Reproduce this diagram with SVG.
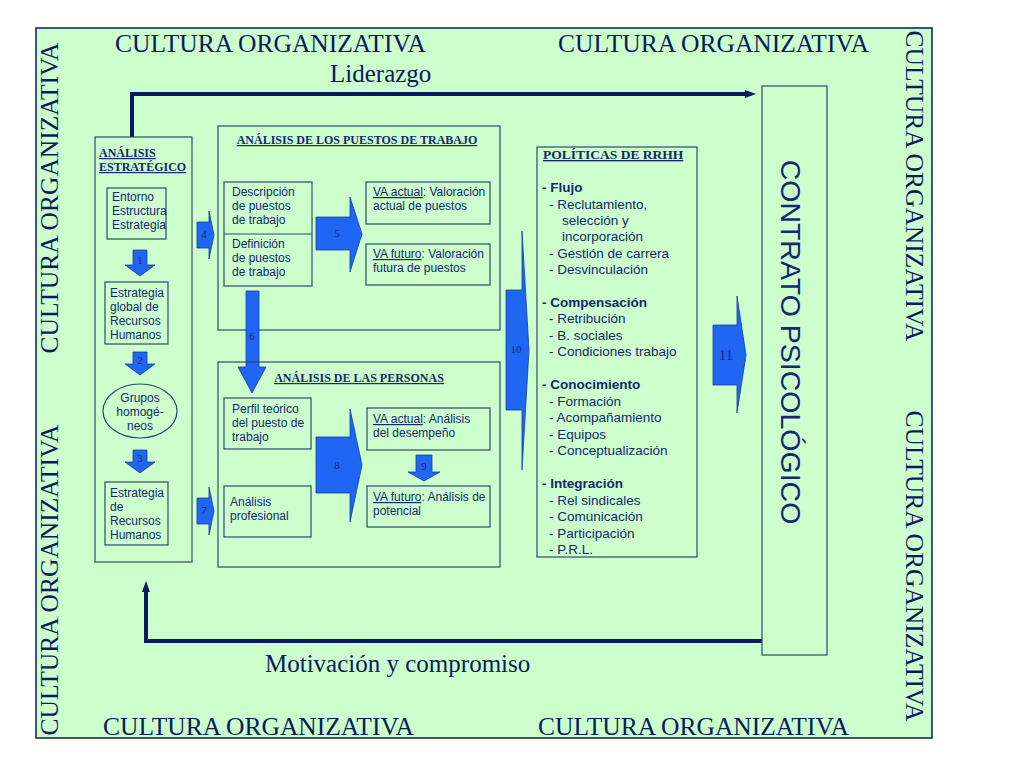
<svg xmlns="http://www.w3.org/2000/svg" width="1024" height="768" viewBox="0 0 1024 768">
<defs>
<style>
.bg{fill:#CCFFCC;stroke:#0A1A5C;stroke-width:1.5}
.box{fill:none;stroke:#2E4A66;stroke-width:1.2}
.cult{font-family:"Liberation Serif","Times New Roman",serif;font-size:25.5px;fill:#0A1A5C}
.big{font-family:"Liberation Serif","Times New Roman",serif;font-size:25px;fill:#0A1A5C}
.t{font-family:"Liberation Sans",Arial,sans-serif;font-size:12px;fill:#14286E}
.p{font-family:"Liberation Sans",Arial,sans-serif;font-size:13.5px;fill:#14286E}
.pb{font-family:"Liberation Sans",Arial,sans-serif;font-size:13.5px;fill:#14286E;font-weight:bold}
.ttl{font-family:"Liberation Serif","Times New Roman",serif;font-size:12px;font-weight:bold;fill:#14286E;text-decoration:underline}
.num{font-family:"Liberation Serif","Times New Roman",serif;font-size:11px;fill:#14286E;text-anchor:middle}
.arr{fill:#1F66F5;stroke:#1A3C9C;stroke-width:0.8}
.conn{fill:none;stroke:#0A1A5C;stroke-width:4}
.u{text-decoration:underline}
</style>
<marker id="ah" markerWidth="12" markerHeight="10" refX="2" refY="5" orient="auto" markerUnits="userSpaceOnUse">
<path d="M0,1 L11,5 L0,9 z" fill="#0A1A5C"/>
</marker>
</defs>

<rect class="bg" x="36" y="28" width="896" height="710"/>

<g id="cultura-labels">
<text class="cult" x="115" y="52">CULTURA ORGANIZATIVA</text>
<text class="cult" x="558" y="52">CULTURA ORGANIZATIVA</text>
<text class="cult" x="103" y="735">CULTURA ORGANIZATIVA</text>
<text class="cult" x="538" y="735">CULTURA ORGANIZATIVA</text>
<text class="cult" text-anchor="middle" transform="translate(58,198) rotate(-90)">CULTURA ORGANIZATIVA</text>
<text class="cult" text-anchor="middle" transform="translate(58,580) rotate(-90)">CULTURA ORGANIZATIVA</text>
<text class="cult" text-anchor="middle" transform="translate(906,186) rotate(90)">CULTURA ORGANIZATIVA</text>
<text class="cult" text-anchor="middle" transform="translate(906,566) rotate(90)">CULTURA ORGANIZATIVA</text>
</g>

<g id="connectors">
<polyline class="conn" points="132,137 132,94 747,94" marker-end="url(#ah)"/>
<polyline class="conn" points="762,641 146,641 146,590" marker-end="url(#ah)"/>
<text class="big" x="330" y="82">Liderazgo</text>
<text class="big" x="265" y="672">Motivación y compromiso</text>
</g>

<g id="analisis-estrategico">
<rect class="box" x="95" y="137" width="97" height="425"/>
<text class="ttl" x="99" y="157">ANÁLISIS</text>
<text class="ttl" x="99" y="171">ESTRATÉGICO</text>
</g>
<g id="entorno">
<rect class="box" x="107" y="188" width="59" height="51"/>
<text class="t" x="112" y="201">Entorno</text>
<text class="t" x="112" y="215">Estructura</text>
<text class="t" x="112" y="229">Estrategia</text>
</g>
<g id="arrow1">
<polygon class="arr" points="133,250 147,250 147,265 155,265 140,276 125,265 133,265"/>
<text class="num" x="140" y="264">1</text>
</g>
<g id="estrategia-global">
<rect class="box" x="105" y="282" width="63" height="62"/>
<text class="t" x="110" y="297">Estrategia</text>
<text class="t" x="110" y="311">global de</text>
<text class="t" x="110" y="325">Recursos</text>
<text class="t" x="110" y="339">Humanos</text>
</g>
<g id="arrow2">
<polygon class="arr" points="133,352 147,352 147,364 155,364 140,375 125,364 133,364"/>
<text class="num" x="140" y="364">2</text>
</g>
<g id="grupos">
<ellipse class="box" cx="140" cy="411" rx="37" ry="27"/>
<text class="t" x="140" y="402" text-anchor="middle">Grupos</text>
<text class="t" x="140" y="416" text-anchor="middle">homogé-</text>
<text class="t" x="140" y="430" text-anchor="middle">neos</text>
</g>
<g id="arrow3">
<polygon class="arr" points="133,450 147,450 147,462 155,462 140,473 125,462 133,462"/>
<text class="num" x="140" y="462">3</text>
</g>
<g id="estrategia-rrhh">
<rect class="box" x="105" y="482" width="63" height="63"/>
<text class="t" x="110" y="497">Estrategia</text>
<text class="t" x="110" y="511">de</text>
<text class="t" x="110" y="525">Recursos</text>
<text class="t" x="110" y="539">Humanos</text>
</g>
<g id="arrow4">
<polygon class="arr" points="197,222 209,222 209,211 214,235 209,259 209,248 197,248"/>
<text class="num" x="204" y="238">4</text>
</g>
<g id="arrow7">
<polygon class="arr" points="197,498 209,498 209,487 214,511 209,535 209,524 197,524"/>
<text class="num" x="204" y="514">7</text>
</g>

<g id="analisis-puestos">
<rect class="box" x="218" y="126" width="282" height="204"/>
<text class="ttl" x="357" y="144" text-anchor="middle">ANÁLISIS DE LOS PUESTOS  DE TRABAJO</text>
</g>
<g id="descripcion">
<rect class="box" x="224" y="182" width="88" height="104"/>
<line class="box" x1="224" y1="234" x2="312" y2="234"/>
<text class="t" x="232" y="196">Descripción</text>
<text class="t" x="232" y="210">de puestos</text>
<text class="t" x="232" y="224">de trabajo</text>
<text class="t" x="232" y="248">Definición</text>
<text class="t" x="232" y="262">de puestos</text>
<text class="t" x="232" y="276">de trabajo</text>
</g>
<g id="arrow5">
<polygon class="arr" points="316,217 350,217 350,197 362,234 350,272 350,250 316,250"/>
<text class="num" x="337" y="237">5</text>
</g>
<g id="va-actual-puestos">
<rect class="box" x="366" y="182" width="124" height="42"/>
<text class="t" x="373" y="196"><tspan class="u">VA actual</tspan>: Valoración</text>
<text class="t" x="373" y="210">actual de puestos</text>
</g>
<g id="va-futuro-puestos">
<rect class="box" x="366" y="244" width="124" height="41"/>
<text class="t" x="373" y="258"><tspan class="u">VA futuro</tspan>: Valoración</text>
<text class="t" x="373" y="272">futura de puestos</text>
</g>
<g id="arrow6">
<polygon class="arr" points="246,291 259,291 259,367 266,367 252,393 238,367 246,367"/>
<text class="num" x="252" y="340">6</text>
</g>

<g id="analisis-personas">
<rect class="box" x="218" y="362" width="282" height="205"/>
<text class="ttl" x="359" y="382" text-anchor="middle">ANÁLISIS DE LAS PERSONAS</text>
</g>
<g id="perfil">
<rect class="box" x="224" y="398" width="87" height="51"/>
<text class="t" x="232" y="413">Perfil teórico</text>
<text class="t" x="232" y="427">del puesto de</text>
<text class="t" x="232" y="441">trabajo</text>
</g>
<g id="analisis-profesional">
<rect class="box" x="224" y="486" width="87" height="51"/>
<text class="t" x="230" y="506">Análisis</text>
<text class="t" x="230" y="520">profesional</text>
</g>
<g id="arrow8">
<polygon class="arr" points="316,437 350,437 350,409 362,465 350,522 350,493 316,493"/>
<text class="num" x="337" y="469">8</text>
</g>
<g id="va-actual-personas">
<rect class="box" x="367" y="408" width="123" height="42"/>
<text class="t" x="373" y="423"><tspan class="u">VA actual</tspan>: Análisis</text>
<text class="t" x="373" y="437">del desempeño</text>
</g>
<g id="arrow9">
<polygon class="arr" points="416,455 432,455 432,472 440,472 424,481 408,472 416,472"/>
<text class="num" x="424" y="470">9</text>
</g>
<g id="va-futuro-personas">
<rect class="box" x="367" y="486" width="123" height="41"/>
<text class="t" x="373" y="501"><tspan class="u">VA futuro</tspan>: Análisis de</text>
<text class="t" x="373" y="515">potencial</text>
</g>

<g id="arrow10">
<polygon class="arr" points="506,290 522,290 522,231 529,350 522,470 522,410 506,410"/>
<text class="num" x="516" y="353">10</text>
</g>

<g id="politicas">
<rect class="box" x="537" y="147" width="160" height="410"/>
<text class="ttl" x="543" y="159" style="font-size:13.5px">POLÍTICAS DE RRHH</text>
<text class="pb" x="542" y="192">- Flujo</text>
<text class="p" x="549" y="209">- Reclutamiento,</text>
<text class="p" x="562" y="225">selección y</text>
<text class="p" x="562" y="241">incorporación</text>
<text class="p" x="549" y="258">- Gestión de carrera</text>
<text class="p" x="549" y="274">- Desvinculación</text>
<text class="pb" x="542" y="307">- Compensación</text>
<text class="p" x="549" y="323">- Retribución</text>
<text class="p" x="549" y="340">- B. sociales</text>
<text class="p" x="549" y="356">- Condiciones trabajo</text>
<text class="pb" x="542" y="389">- Conocimiento</text>
<text class="p" x="549" y="406">- Formación</text>
<text class="p" x="549" y="422">- Acompañamiento</text>
<text class="p" x="549" y="439">- Equipos</text>
<text class="p" x="549" y="455">- Conceptualización</text>
<text class="pb" x="542" y="488">- Integración</text>
<text class="p" x="549" y="505">- Rel sindicales</text>
<text class="p" x="549" y="521">- Comunicación</text>
<text class="p" x="549" y="538">- Participación</text>
<text class="p" x="549" y="554">- P.R.L.</text>
</g>

<g id="arrow11">
<polygon class="arr" points="713,325 737,325 737,296 746,355 737,413 737,385 713,385"/>
<text class="num" x="726" y="360" style="font-size:15px">11</text>
</g>

<g id="contrato">
<rect class="box" x="762" y="86" width="65" height="569"/>
<text transform="translate(781,342) rotate(90)" text-anchor="middle" style="font-family:'Liberation Sans',Arial,sans-serif;font-size:28.5px;fill:#14286E">CONTRATO PSICOLÓGICO</text>
</g>
</svg>
